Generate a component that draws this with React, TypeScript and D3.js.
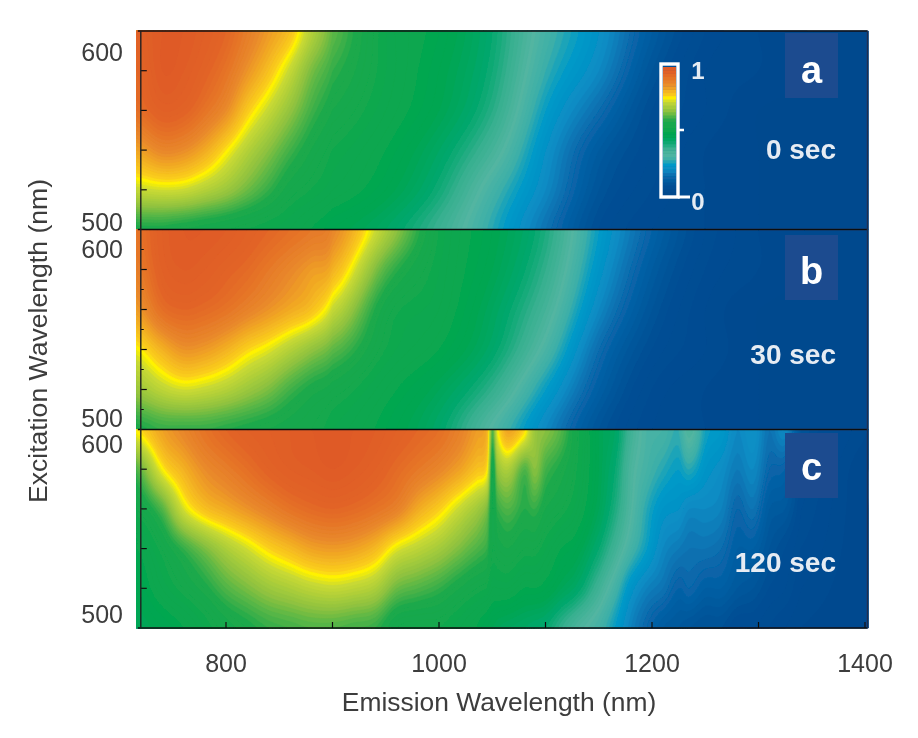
import React, { useEffect, useRef } from "react";
import * as d3 from "d3";

// Excitation rows, top of each panel first
const excitationRows = [600, 580, 560, 540, 520, 500];

// Emission columns of panels a and b (716 / 1403 are the plot's outer edges)
const emissionSmooth = [716, 740, 760, 780, 800, 820, 840, 860, 880, 900, 950, 1000, 1050, 1100, 1150, 1200, 1250, 1300, 1403];

const panelA = [
  [0.97, 1.0, 1.0, 0.98, 0.95, 0.9, 0.85, 0.8, 0.71, 0.63, 0.53, 0.49, 0.42, 0.3, 0.22, 0.12, 0.06, 0.04, 0.02],
  [0.95, 1.0, 0.99, 0.96, 0.92, 0.86, 0.8, 0.73, 0.65, 0.6, 0.53, 0.48, 0.41, 0.28, 0.2, 0.1, 0.05, 0.04, 0.02],
  [0.93, 0.97, 0.96, 0.92, 0.87, 0.79, 0.73, 0.67, 0.61, 0.57, 0.52, 0.47, 0.39, 0.25, 0.16, 0.08, 0.05, 0.03, 0.02],
  [0.84, 0.88, 0.87, 0.83, 0.77, 0.71, 0.66, 0.61, 0.57, 0.54, 0.5, 0.44, 0.35, 0.22, 0.12, 0.07, 0.04, 0.03, 0.02],
  [0.73, 0.74, 0.735, 0.71, 0.68, 0.64, 0.6, 0.56, 0.54, 0.52, 0.48, 0.41, 0.3, 0.2, 0.1, 0.06, 0.04, 0.03, 0.02],
  [0.58, 0.58, 0.57, 0.56, 0.55, 0.54, 0.53, 0.52, 0.5, 0.48, 0.44, 0.37, 0.27, 0.17, 0.08, 0.05, 0.04, 0.03, 0.02],
];

const panelB = [
  [0.92, 0.98, 1.0, 1.0, 0.99, 0.97, 0.95, 0.93, 0.91, 0.88, 0.7, 0.54, 0.48, 0.4, 0.25, 0.14, 0.07, 0.04, 0.02],
  [0.9, 0.97, 0.99, 0.98, 0.96, 0.94, 0.91, 0.88, 0.85, 0.82, 0.62, 0.53, 0.47, 0.38, 0.23, 0.12, 0.06, 0.04, 0.02],
  [0.85, 0.93, 0.95, 0.94, 0.92, 0.89, 0.86, 0.83, 0.8, 0.73, 0.56, 0.52, 0.45, 0.35, 0.2, 0.1, 0.05, 0.03, 0.02],
  [0.76, 0.82, 0.86, 0.85, 0.82, 0.78, 0.75, 0.71, 0.67, 0.63, 0.54, 0.5, 0.43, 0.31, 0.16, 0.08, 0.05, 0.03, 0.02],
  [0.68, 0.72, 0.74, 0.73, 0.71, 0.68, 0.65, 0.61, 0.58, 0.56, 0.51, 0.46, 0.38, 0.25, 0.13, 0.06, 0.04, 0.03, 0.02],
  [0.58, 0.6, 0.6, 0.6, 0.59, 0.58, 0.57, 0.56, 0.55, 0.53, 0.49, 0.43, 0.32, 0.2, 0.1, 0.05, 0.04, 0.03, 0.02],
];

// Panel c is spikier past 1030 nm, so it needs more columns
const emissionSpiky = [716, 740, 760, 780, 800, 820, 840, 860, 880, 900, 920, 940, 960, 980, 1000, 1020, 1035, 1045, 1050, 1055, 1065, 1080, 1090, 1100, 1115, 1130, 1150, 1165, 1180, 1195, 1210, 1225, 1235, 1250, 1265, 1280, 1295, 1310, 1325, 1340, 1403];

const panelC = [
  [0.77, 0.84, 0.88, 0.92, 0.95, 0.97, 0.98, 0.99, 1.0, 1.0, 1.0, 0.99, 0.97, 0.95, 0.93, 0.89, 0.85, 0.82, 0.62, 0.76, 0.84, 0.78, 0.68, 0.66, 0.62, 0.55, 0.47, 0.44, 0.36, 0.31, 0.3, 0.28, 0.34, 0.26, 0.24, 0.2, 0.22, 0.17, 0.2, 0.1, 0.04],
  [0.62, 0.76, 0.82, 0.87, 0.9, 0.93, 0.96, 0.98, 0.99, 1.0, 0.99, 0.97, 0.94, 0.91, 0.88, 0.84, 0.8, 0.77, 0.55, 0.67, 0.7, 0.62, 0.66, 0.61, 0.58, 0.54, 0.47, 0.42, 0.34, 0.3, 0.27, 0.25, 0.27, 0.23, 0.21, 0.18, 0.2, 0.15, 0.14, 0.08, 0.03],
  [0.55, 0.62, 0.74, 0.8, 0.83, 0.86, 0.89, 0.92, 0.94, 0.95, 0.94, 0.92, 0.89, 0.83, 0.785, 0.73, 0.69, 0.65, 0.55, 0.6, 0.62, 0.59, 0.6, 0.57, 0.55, 0.52, 0.46, 0.4, 0.33, 0.27, 0.23, 0.22, 0.2, 0.2, 0.19, 0.15, 0.17, 0.12, 0.11, 0.07, 0.03],
  [0.5, 0.55, 0.6, 0.65, 0.7, 0.74, 0.78, 0.81, 0.84, 0.85, 0.84, 0.81, 0.75, 0.72, 0.69, 0.65, 0.62, 0.6, 0.55, 0.56, 0.57, 0.55, 0.55, 0.53, 0.5, 0.48, 0.42, 0.36, 0.3, 0.25, 0.2, 0.18, 0.17, 0.17, 0.16, 0.13, 0.13, 0.1, 0.08, 0.06, 0.03],
  [0.48, 0.52, 0.55, 0.58, 0.62, 0.65, 0.68, 0.7, 0.72, 0.73, 0.72, 0.7, 0.64, 0.62, 0.6, 0.57, 0.55, 0.54, 0.52, 0.52, 0.52, 0.5, 0.5, 0.49, 0.46, 0.43, 0.36, 0.3, 0.23, 0.19, 0.17, 0.14, 0.15, 0.13, 0.13, 0.11, 0.1, 0.08, 0.07, 0.05, 0.03],
  [0.46, 0.48, 0.5, 0.53, 0.56, 0.58, 0.6, 0.61, 0.62, 0.62, 0.61, 0.6, 0.55, 0.54, 0.54, 0.52, 0.5, 0.48, 0.47, 0.46, 0.45, 0.44, 0.43, 0.42, 0.38, 0.34, 0.3, 0.25, 0.19, 0.15, 0.12, 0.11, 0.1, 0.09, 0.09, 0.07, 0.07, 0.06, 0.05, 0.04, 0.03],
];

const panelNames = ["a", "b", "c"];
const panelTimes = ["0 sec", "30 sec", "120 sec"];
const xTickValues = [800, 900, 1000, 1100, 1200, 1300, 1400];
const xTickLabels = [800, 1000, 1200, 1400];
const yMajorTicks = [520, 540, 560, 580];
const yMinorTicks = [510, 530, 550, 570, 590];

const colorStops = [0, 0.08, 0.15, 0.2, 0.24, 0.28, 0.32, 0.37, 0.42, 0.47, 0.58, 0.66, 0.73, 0.76, 0.775, 0.87, 0.95, 1];
const colorValues = ["#03478c", "#054f95", "#0768ab", "#0a8cc4", "#0099c8", "#3dafa8", "#52b5a1", "#38b090", "#00a76c", "#00a651", "#1da94c", "#8fc23f", "#c8d934", "#fff200", "#fbd01c", "#e9892a", "#e26426", "#df5a26"];

const WIDTH = 918;
const HEIGHT = 738;
const FONT = "'Liberation Sans', Arial, sans-serif";

// Catmull-Rom between typed grid values, only to get round contour lines
function refineGrid(rows: number[][], fx: number, fy: number) {
  const cr = (a: number, b: number, c: number, d: number, t: number) =>
    b + 0.5 * t * (c - a + t * (2 * a - 5 * b + 4 * c - d + t * (3 * (b - c) + d - a)));
  const refine1 = (arr: number[], f: number) => {
    const out: number[] = [];
    for (let i = 0; i < arr.length - 1; i++) {
      const a = arr[Math.max(i - 1, 0)];
      const d = arr[Math.min(i + 2, arr.length - 1)];
      for (let k = 0; k < f; k++) out.push(cr(a, arr[i], arr[i + 1], d, k / f));
    }
    out.push(arr[arr.length - 1]);
    return out;
  };
  const wide = rows.map(r => refine1(r, fx));
  const n = wide[0].length;
  const cols = d3.range(n).map(i => refine1(wide.map(r => r[i]), fy));
  const m = cols[0].length;
  const values: number[] = [];
  for (let j = 0; j < m; j++) for (let i = 0; i < n; i++) values.push(cols[i][j]);
  return { values, n, m };
}

const App = () => {
  const svgRef = useRef<SVGSVGElement>(null);

  useEffect(() => {
    const svg = d3.select(svgRef.current);
    svg.selectAll("*").remove();

    const x = d3.scaleLinear().domain([800, 1400]).range([226, 865]);
    const color = d3.scaleLinear<string>().domain(colorStops).range(colorValues);

    const panels = [
      { rows: panelA, emission: emissionSmooth, top: 31, bottom: 229.5, label600: 54.5, label500: 224.5, box: 33, letter: 73, time: 152 },
      { rows: panelB, emission: emissionSmooth, top: 229.5, bottom: 429.5, label600: 251.5, label500: 420.5, box: 235, letter: 274, time: 357 },
      { rows: panelC, emission: emissionSpiky, top: 429.5, bottom: 628, label600: 446.5, label500: 616.5, box: 433, letter: 470, time: 565 },
    ];

    svg.append("defs").append("filter").attr("id", "soft")
      .attr("filterUnits", "userSpaceOnUse")
      .attr("x", 0).attr("y", 0).attr("width", WIDTH).attr("height", HEIGHT)
      .append("feGaussianBlur").attr("stdDeviation", 0.6);

    const root = svg.append("g").attr("filter", "url(#soft)");
    root.append("rect").attr("width", WIDTH).attr("height", HEIGHT).attr("fill", "#fff");

    const thresholds = d3.range(0, 1.02, 0.01);
    const fx = 6, fy = 8;

    panels.forEach((p, pi) => {
      const y = d3.scaleLinear().domain([500, 600]).range([p.bottom, p.top]);
      const { values, n, m } = refineGrid(p.rows, fx, fy);
      const colIndex = d3.scaleLinear().domain(p.emission.map((_, i) => i * fx)).range(p.emission);
      const rowIndex = d3.scaleLinear().domain(excitationRows.map((_, i) => i * fy)).range(excitationRows);

      // contour coordinates have grid value i at i + 0.5
      const project = d3.geoTransform({
        point(cx: number, cy: number) {
          const ci = Math.min(Math.max(cx - 0.5, 0), n - 1);
          const cj = Math.min(Math.max(cy - 0.5, 0), m - 1);
          (this as any).stream.point(x(colIndex(ci)), y(rowIndex(cj)));
        },
      });
      const path = d3.geoPath(project);
      const contours = d3.contours().size([n, m]).thresholds(thresholds)(values);

      const g = root.append("g");
      g.selectAll("path")
        .data(contours)
        .join("path")
        .attr("d", d => path(d as any))
        .attr("fill", d => color(d.value))
        .attr("stroke", d => color(d.value))
        .attr("stroke-width", 0.4);

      // badge with panel letter
      g.append("rect").attr("x", 785).attr("y", p.box).attr("width", 53).attr("height", 65)
        .attr("fill", "#1c4c8f");
      g.append("text").attr("x", 811.5).attr("y", p.letter).attr("text-anchor", "middle")
        .attr("dominant-baseline", "middle").attr("font-family", FONT).attr("font-weight", "bold")
        .attr("font-size", 38).attr("fill", "#fff").text(panelNames[pi]);
      g.append("text").attr("x", 836).attr("y", p.time).attr("text-anchor", "end")
        .attr("dominant-baseline", "middle").attr("font-family", FONT).attr("font-weight", "bold")
        .attr("font-size", 28).attr("fill", "#e6ecf3").text(panelTimes[pi]);

      // excitation ticks
      const left = x(720);
      yMajorTicks.forEach(t => {
        root.append("line").attr("x1", left).attr("x2", left + 6).attr("y1", y(t)).attr("y2", y(t))
          .attr("stroke", "#111").attr("stroke-width", 1.2);
      });
      if (pi === 1) {
        yMinorTicks.forEach(t => {
          root.append("line").attr("x1", left).attr("x2", left + 3).attr("y1", y(t)).attr("y2", y(t))
            .attr("stroke", "#111").attr("stroke-width", 1);
        });
      }
      [[600, p.label600], [500, p.label500]].forEach(([txt, cy]) => {
        root.append("text").attr("x", 123).attr("y", cy).attr("text-anchor", "end")
          .attr("dominant-baseline", "middle").attr("font-family", FONT).attr("font-size", 25)
          .attr("fill", "#3c3c3c").text(txt);
      });
    });

    // frame
    const left = x(720), right = 867.5, tops = panels.map(p => p.top);
    const bottom = 628;
    tops.forEach(t => {
      root.append("line").attr("x1", left - 3).attr("x2", right).attr("y1", t).attr("y2", t)
        .attr("stroke", "#111").attr("stroke-width", 1.6);
    });
    root.append("line").attr("x1", left - 3).attr("x2", right).attr("y1", bottom).attr("y2", bottom)
      .attr("stroke", "#111").attr("stroke-width", 1.4);
    root.append("line").attr("x1", left).attr("x2", left).attr("y1", 31).attr("y2", bottom)
      .attr("stroke", "#222").attr("stroke-width", 1.4);
    root.append("line").attr("x1", right).attr("x2", right).attr("y1", 31).attr("y2", bottom)
      .attr("stroke", "#1a2f4f").attr("stroke-width", 1.4);

    xTickValues.forEach(t => {
      root.append("line").attr("x1", x(t)).attr("x2", x(t)).attr("y1", bottom).attr("y2", bottom - 6)
        .attr("stroke", "#111").attr("stroke-width", 1.2);
    });
    xTickLabels.forEach(t => {
      root.append("text").attr("x", x(t)).attr("y", 665).attr("text-anchor", "middle")
        .attr("dominant-baseline", "middle").attr("font-family", FONT).attr("font-size", 25)
        .attr("fill", "#3c3c3c").text(t);
    });

    root.append("text").attr("x", 499).attr("y", 704).attr("text-anchor", "middle")
      .attr("dominant-baseline", "middle").attr("font-family", FONT).attr("font-size", 26.4)
      .attr("fill", "#3c3c3c").text("Emission Wavelength (nm)");
    root.append("text").attr("transform", "translate(40,341) rotate(-90)").attr("text-anchor", "middle")
      .attr("dominant-baseline", "middle").attr("font-family", FONT).attr("font-size", 26.6)
      .attr("fill", "#3c3c3c").text("Excitation Wavelength (nm)");

    // colour bar inside panel a
    const barY = d3.scaleLinear().domain([0, 1]).range([195, 67]);
    const barLevels = d3.range(0, 1, 0.025);
    root.append("g").selectAll("rect").data(barLevels).join("rect")
      .attr("x", 663).attr("width", 13)
      .attr("y", d => barY(d + 0.025))
      .attr("height", d => barY(d) - barY(d + 0.025) + 0.5)
      .attr("fill", d => color(d + 0.0125));
    root.append("rect").attr("x", 661).attr("y", 64).attr("width", 17).attr("height", 133)
      .attr("fill", "none").attr("stroke", "#fff").attr("stroke-width", 3.4);
    root.append("line").attr("x1", 678).attr("x2", 690).attr("y1", 197).attr("y2", 197)
      .attr("stroke", "#fff").attr("stroke-width", 3);
    root.append("line").attr("x1", 678).attr("x2", 684).attr("y1", 130).attr("y2", 130)
      .attr("stroke", "#fff").attr("stroke-width", 2.5);
    [["1", 73], ["0", 204]].forEach(([txt, cy]) => {
      root.append("text").attr("x", 698).attr("y", cy).attr("text-anchor", "middle")
        .attr("dominant-baseline", "middle").attr("font-family", FONT).attr("font-weight", "bold")
        .attr("font-size", 24).attr("fill", "#e6ecf3").text(txt);
    });
  }, []);

  return (
    <svg ref={svgRef} width={WIDTH} height={HEIGHT}
      style={{ position: "absolute", left: 0, top: 0, background: "#fff" }} />
  );
};

export default App;
